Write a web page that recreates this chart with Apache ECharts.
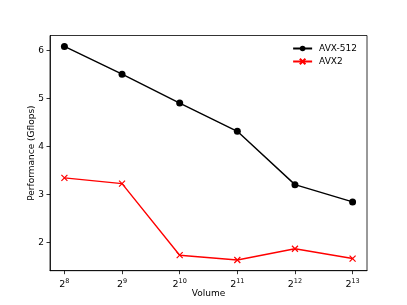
<!DOCTYPE html>
<html><head><meta charset="utf-8">
<script src="https://cdn.jsdelivr.net/npm/echarts@6/dist/echarts.min.js"></script>
<style>html,body{margin:0;padding:0;background:#fff}#c{width:407px;height:305px}</style>
</head><body><div id="c"></div>
<script>
var exponents = [8, 9, 10, 11, 12, 13];
var avx512 = [6.09, 5.51, 4.91, 4.32, 3.21, 2.85];
var avx2 = [3.35, 3.23, 1.74, 1.64, 1.875, 1.67];
var yTicks = [2, 3, 4, 5, 6];
var xTicks = exponents.map(function (e, i) { return i; });

var F = 'DejaVu Sans';
var chart = echarts.init(document.getElementById('c'), null, {renderer: 'canvas'});
var xMark = 'path://M0,0L10,10M10,0L0,10';
chart.setOption({
  animation: false,
  backgroundColor: '#fff',
  grid: {left: 50, right: 40, top: 35.5, bottom: 34.3, show: true, borderColor: '#000', borderWidth: 0.8, containLabel: false},
  legend: {
    orient: 'vertical', right: 45, top: 39, itemGap: 4, itemWidth: 19, itemHeight: 7,
    textStyle: {fontFamily: F, fontSize: 9, color: '#000', padding: [0, 0, 0, 2]},
    data: ['AVX-512', 'AVX2']
  },
  xAxis: {
    type: 'value', min: -0.25, max: 5.25,
    name: 'Volume', nameLocation: 'middle', nameGap: 18, nameMoveOverlap: false,
    nameTextStyle: {fontFamily: F, fontSize: 9, color: '#000'},
    axisLine: {show: true, onZero: false, lineStyle: {color: '#000', width: 0.8}},
    axisTick: {show: true, length: 3.5, lineStyle: {color: '#000', width: 0.8}, customValues: xTicks},
    splitLine: {show: false},
    axisLabel: {
      customValues: xTicks, margin: 7,
      formatter: function (v) { return '{b|2}{s|' + exponents[Math.round(v)] + '}'; },
      rich: {
        b: {fontFamily: F, fontSize: 9.5, color: '#000'},
        s: {fontFamily: F, fontSize: 6.5, color: '#000', verticalAlign: 'top', padding: [0, 0, 6, 0]}
      }
    }
  },
  yAxis: {
    type: 'value', min: 1.417, max: 6.317,
    name: 'Performance (Gflops)', nameLocation: 'middle', nameGap: 14, nameMoveOverlap: false,
    nameTextStyle: {fontFamily: F, fontSize: 9, color: '#000'},
    axisLine: {show: true, onZero: false, lineStyle: {color: '#000', width: 0.8}},
    axisTick: {show: true, length: 3.5, lineStyle: {color: '#000', width: 0.8}, customValues: yTicks},
    splitLine: {show: false},
    axisLabel: {customValues: yTicks, margin: 6, fontFamily: F, fontSize: 9, color: '#000'}
  },
  series: [
    {
      name: 'AVX-512', type: 'line',
      data: avx512.map(function (v, i) { return [i, v]; }),
      symbol: 'circle', symbolSize: 7, showSymbol: true,
      lineStyle: {color: '#000', width: 1.4},
      itemStyle: {color: '#000', borderWidth: 0}
    },
    {
      name: 'AVX2', type: 'line',
      data: avx2.map(function (v, i) { return [i, v]; }),
      symbol: xMark, symbolSize: 6, showSymbol: true,
      lineStyle: {color: '#ff0000', width: 1.4},
      itemStyle: {color: '#ff0000', borderColor: '#ff0000', borderWidth: 1.2}
    }
  ]
});
</script></body></html>
